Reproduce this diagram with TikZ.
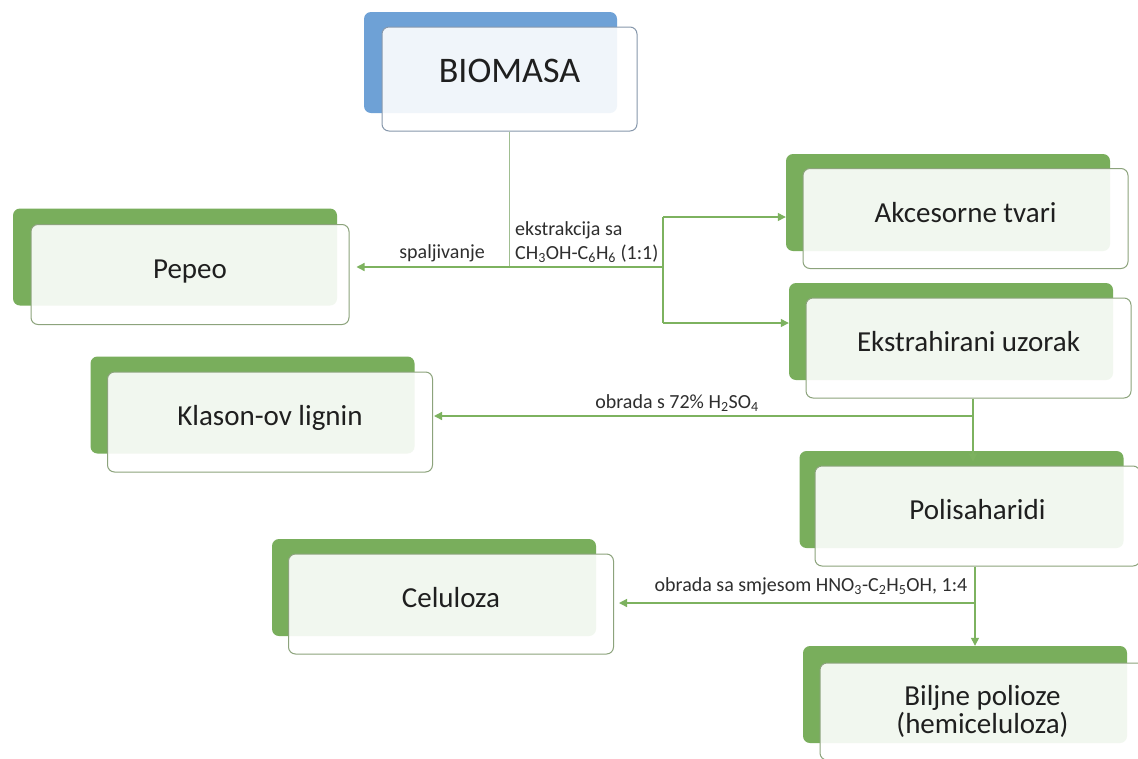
\documentclass[tikz,border=0pt]{standalone}
\usepackage{fontspec}
\setmainfont{Carlito}
\usetikzlibrary{arrows.meta}
\definecolor{zelena}{RGB}{121,174,92}
\definecolor{plava}{RGB}{110,161,214}
\definecolor{rubz}{RGB}{140,163,124}
\definecolor{rubp}{RGB}{135,152,172}
\definecolor{linija}{RGB}{125,178,95}
\definecolor{stablo}{RGB}{160,190,145}

\begin{document}
\begin{tikzpicture}[x=1pt,y=-1pt,
    zadnja/.style={rectangle,rounded corners=7pt,fill=zelena,minimum width=324pt,minimum height=97pt,inner sep=0pt},
    okvir/.style={rectangle,rounded corners=7pt,draw=rubz,line width=1pt,fill=white,fill opacity=0.9,text opacity=1,
      minimum width=325pt,minimum height=100pt,inner sep=0pt,font=\fontsize{29}{28}\selectfont,text=black!88},
    prednja/.style={okvir,text height=20pt,text depth=13pt},
    veza/.style={draw=linija,line width=1.3pt},
    strelica/.style={veza,-{Triangle[width=8pt,length=8pt]}},
    oznaka/.style={font=\fontsize{20}{24}\selectfont,text=black!82,inner sep=0pt}]
  \useasboundingbox (0,0) rectangle (1138,758);
  \fill[white] (0,0) rectangle (1138,758);

  % kutije
  \node[zadnja,fill=plava,minimum width=253pt,minimum height=101pt] (biomasa-z) at (490.5,62.5) {};
  \node[prednja,draw=rubp,minimum width=255pt,minimum height=104pt,font=\fontsize{36}{36}\selectfont] (biomasa) at (509.5,79) {BIOMASA};

  \node[zadnja] (pepeo-z) at (175,257) {};
  \node[prednja,minimum width=318pt] (pepeo) at (190,274.5) {Pepeo};

  \node[zadnja] (akcesorne-z) at (948,202.5) {};
  \node[prednja] (akcesorne) at (965.5,218.5) {Akcesorne tvari};

  \node[zadnja] (ekstrahirani-z) at (951,331.5) {};
  \node[prednja] (ekstrahirani) at (968.5,348) {Ekstrahirani uzorak};

  \node[zadnja] (klason-z) at (252.5,405) {};
  \node[prednja] (klason) at (270,422) {Klason-ov lignin};

  \node[zadnja] (polisaharidi-z) at (961.5,499.5) {};
  \node[prednja] (polisaharidi) at (977.5,516) {Polisaharidi};

  \node[zadnja] (celuloza-z) at (434,587.5) {};
  \node[prednja] (celuloza) at (451,604) {Celuloza};

  \node[zadnja] (biljne-z) at (965,694.5) {};
  \node[okvir,align=center,minimum height=97pt] (biljne) at (982.5,711.5) {Biljne polioze\\(hemiceluloza)};

  % veze
  \coordinate (spoj) at (509.5,267);
  \coordinate (grana) at (663,267);
  \coordinate (g1) at (663,217);
  \coordinate (g2) at (663,323);
  \draw[draw=stablo,line width=1pt] (biomasa.south) -- (spoj);
  \draw[strelica,shorten >=7pt] (grana) -- (pepeo.east |- grana);
  \draw[veza] (g1) -- (g2);
  \draw[strelica] (g1) -- (g1 -| akcesorne-z.west);
  \draw[strelica] (g2) -- (g2 -| ekstrahirani-z.west);

  \coordinate (v1) at (973,416);
  \draw[veza] (ekstrahirani.south -| v1) -- (v1);
  \draw[strelica,shorten >=1pt] (v1) -- (v1 -| klason.east);
  \draw[strelica,shorten >=4pt] (v1) -- (v1 |- polisaharidi.north);

  \coordinate (v2) at (975,603);
  \draw[veza] (polisaharidi.south -| v2) -- (v2);
  \draw[strelica,shorten >=5pt] (v2) -- (v2 -| celuloza.east);
  \draw[strelica] (v2) -- (v2 |- biljne-z.north);

  % oznake
  \node[oznaka,anchor=base east] (spaljivanje) at (485,258) {spaljivanje};
  \node[oznaka,anchor=south west,align=left] (ekstrakcija) at (515,263) {ekstrakcija sa\\CH\textsubscript{3}OH-C\textsubscript{6}H\textsubscript{6} (1:1)};
  \node[oznaka,anchor=base] (obrada1) at (677,408) {obrada s 72\% H\textsubscript{2}SO\textsubscript{4}};
  \node[oznaka,anchor=base] (obrada2) at (811,591) {obrada sa smjesom HNO\textsubscript{3}-C\textsubscript{2}H\textsubscript{5}OH, 1:4};
\end{tikzpicture}
\end{document}
